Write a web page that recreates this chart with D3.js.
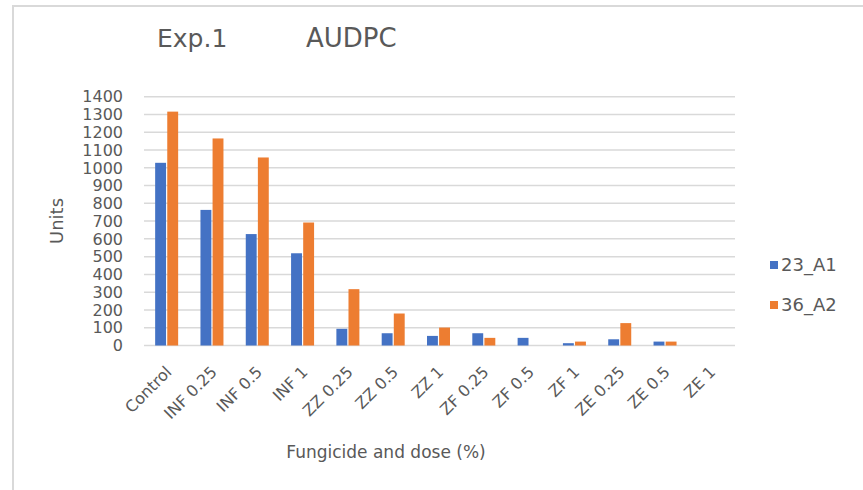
<!DOCTYPE html>
<html>
<head>
<meta charset="utf-8">
<script src="https://cdn.jsdelivr.net/npm/d3@7"></script>
<style>
  body { margin: 0; background: #fff; }
  text { font-family: "DejaVu Sans", sans-serif; fill: #595959; }
</style>
</head>
<body>
<script>
// data
var categories = ['Control', 'INF 0.25', 'INF 0.5', 'INF 1', 'ZZ 0.25', 'ZZ 0.5', 'ZZ 1',
  'ZF 0.25', 'ZF 0.5', 'ZF 1', 'ZE 0.25', 'ZE 0.5', 'ZE 1']
var seriesNames = ['23_A1', '36_A2']
var a1 = [1028, 763, 627, 519, 94, 69, 54, 69, 43, 13, 35, 22, 0]
var a2 = [1316, 1165, 1058, 692, 317, 180, 101, 43, 0, 22, 126, 22, 0]
var yTicks = [0, 100, 200, 300, 400, 500, 600, 700, 800, 900, 1000, 1100, 1200, 1300, 1400]
var colors = ['#4472c4', '#ed7d31']

var w = 863, h = 490
var svg = d3.select('body').append('svg')
  .attr('width', w)
  .attr('height', h)

// chart frame
svg.append('rect')
  .attr('x', 13).attr('y', 6)
  .attr('width', 900).attr('height', 600)
  .attr('fill', 'none')
  .attr('stroke', '#d9d9d9')
  .attr('stroke-width', 2)

var x0 = d3.scaleBand()
  .domain(categories)
  .range([144, 733])
var x1 = d3.scaleBand()
  .domain(seriesNames)
  .range([0, 23])
  .paddingInner(0.1)
var y = d3.scaleLinear()
  .domain([0, 1400])
  .range([345.5, 96.7])

// gridlines
svg.append('g')
  .selectAll('line')
  .data(yTicks)
  .enter()
  .append('line')
  .attr('x1', 144).attr('x2', 735)
  .attr('y1', function (d) { return y(d) })
  .attr('y2', function (d) { return y(d) })
  .attr('stroke', '#d9d9d9')
  .attr('stroke-width', 1.5)

// y tick labels
svg.append('g')
  .selectAll('text')
  .data(yTicks)
  .enter()
  .append('text')
  .attr('x', 123)
  .attr('y', function (d) { return y(d) })
  .attr('dy', '0.36em')
  .attr('text-anchor', 'end')
  .attr('font-size', '16px')
  .text(function (d) { return d })

// bars
var rows = categories.map(function (c, i) {
  return { cat: c, vals: [a1[i], a2[i]] }
})
var groups = svg.append('g')
  .selectAll('g')
  .data(rows)
  .enter()
  .append('g')
  .attr('transform', function (d) {
    return 'translate(' + (x0(d.cat) + (x0.bandwidth() - 23) / 2) + ',0)'
  })
groups.selectAll('rect')
  .data(function (d) { return d.vals.map(function (v, k) { return { s: seriesNames[k], v: v, k: k } }) })
  .enter()
  .append('rect')
  .attr('x', function (d) { return x1(d.s) })
  .attr('width', x1.bandwidth())
  .attr('y', function (d) { return y(d.v) })
  .attr('height', function (d) { return y(0) - y(d.v) })
  .attr('fill', function (d) { return colors[d.k] })

// x tick labels
svg.append('g')
  .selectAll('text')
  .data(categories)
  .enter()
  .append('text')
  .attr('transform', function (d) {
    return 'translate(' + (x0(d) + x0.bandwidth() / 2 + 6) + ',373) rotate(-45)'
  })
  .attr('text-anchor', 'end')
  .attr('font-size', '16px')
  .text(function (d) { return d })

// titles
svg.append('text')
  .attr('x', 157).attr('y', 47)
  .attr('font-size', '25px')
  .text('Exp.1')
svg.append('text')
  .attr('x', 306).attr('y', 47)
  .attr('font-size', '26px')
  .text('AUDPC')

svg.append('text')
  .attr('transform', 'translate(63,221) rotate(-90)')
  .attr('text-anchor', 'middle')
  .attr('font-size', '18px')
  .text('Units')

svg.append('text')
  .attr('x', 386).attr('y', 458)
  .attr('text-anchor', 'middle')
  .attr('font-size', '17px')
  .text('Fungicide and dose (%)')

// legend
var legend = svg.append('g')
  .selectAll('g')
  .data(seriesNames)
  .enter()
  .append('g')
  .attr('transform', function (d, i) { return 'translate(770,' + (265 + i * 40) + ')' })
legend.append('rect')
  .attr('x', 0).attr('y', -4)
  .attr('width', 8).attr('height', 8)
  .attr('fill', function (d, i) { return colors[i] })
legend.append('text')
  .attr('x', 11).attr('y', 0)
  .attr('dy', '0.36em')
  .attr('font-size', '18px')
  .text(function (d) { return d })
</script>
</body>
</html>
